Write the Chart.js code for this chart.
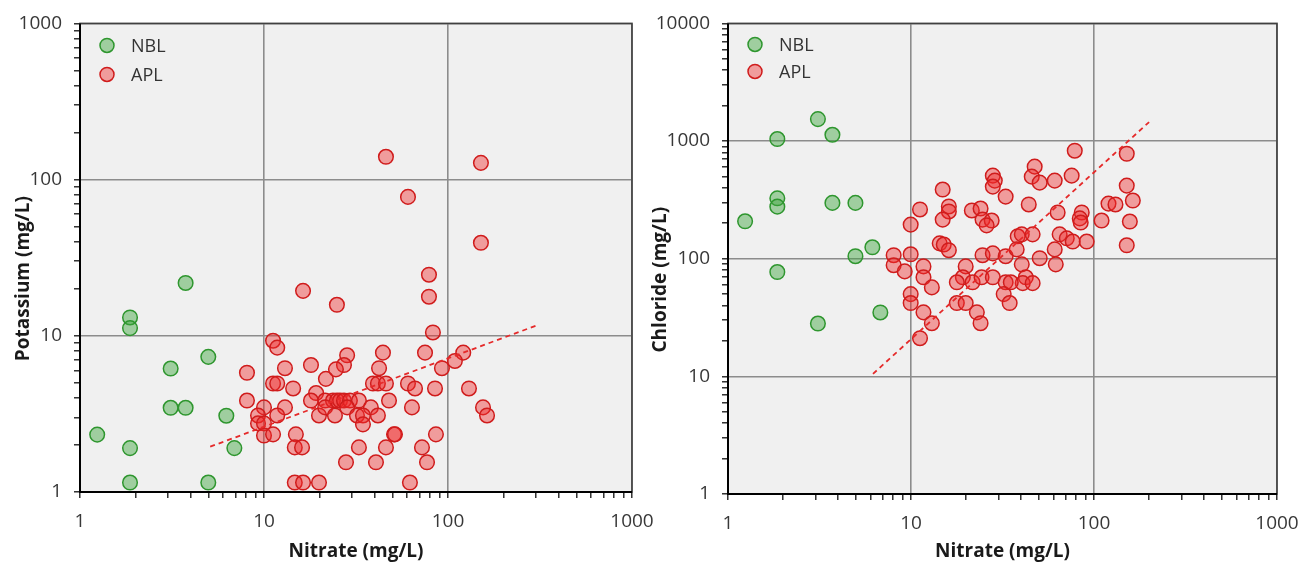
<!DOCTYPE html>
<html><head><meta charset="utf-8">
<script src="https://cdn.jsdelivr.net/npm/chart.js@4.4.1/dist/chart.umd.min.js"></script>
<style>
html,body{margin:0;padding:0;background:#fff;width:1299px;height:564px;overflow:hidden;position:relative}
canvas{position:absolute;top:0}
#cL{left:0}
#cR{left:645px}
</style></head><body>
<canvas id="cL" width="670" height="564"></canvas>
<canvas id="cR" width="680" height="564"></canvas>
<script>
// ---- tick labels ----
const majorTicks = [1, 10, 100, 1000, 10000];
const minorSteps = [1, 2, 3, 4, 5, 6, 7, 8, 9];

// ---- Left chart: Potassium vs Nitrate ----
const nitrateNBL_K = [1.24, 1.87, 1.87, 1.87, 1.87, 3.75, 3.11, 3.11, 3.75, 4.98, 4.98, 6.24, 6.9];
const potassiumNBL = [2.33, 13.1, 11.2, 1.91, 1.15, 21.8, 6.17, 3.46, 3.46, 7.33, 1.15, 3.08, 1.91];

const nitrateAPL_K = [46.0, 151, 60.6, 151, 78.8, 78.8, 16.3, 24.9, 82.8, 11.2,
  11.8, 8.08, 13.0, 18.0, 28.3, 27.2, 24.6, 21.7, 11.2, 11.8,
  14.4, 44.3, 75.0, 121, 109, 92.7, 42.2, 39.1, 41.6, 46.0,
  60.6, 66.2, 85.0, 130, 8.08, 19.2, 18.0, 21.5, 23.7, 24.9,
  25.9, 27.2, 29.3, 32.8, 47.8, 13.0, 11.8, 10.0, 9.28, 9.28,
  10.0, 10.0, 11.2, 14.9, 14.7, 16.1, 19.9, 21.5, 24.3, 28.3,
  38.1, 63.7, 32.0, 34.5, 41.6, 155, 163, 34.5, 50.9, 51.5,
  86.0, 32.8, 46.0, 72.2, 27.9, 40.6, 76.9, 14.7, 16.3, 19.9, 62.1];
const potassiumAPL = [140, 128, 77.5, 39.4, 24.6, 17.8, 19.4, 15.8, 10.5, 9.3,
  8.4, 5.8, 6.2, 6.5, 7.5, 6.5, 6.1, 5.3, 4.95, 4.95,
  4.6, 7.8, 7.8, 7.8, 6.9, 6.2, 6.2, 4.95, 4.95, 4.95,
  4.95, 4.6, 4.6, 4.6, 3.85, 4.3, 3.85, 3.85, 3.85, 3.85,
  3.85, 3.85, 3.85, 3.85, 3.85, 3.48, 3.09, 3.48, 3.09, 2.75,
  2.75, 2.3, 2.34, 2.34, 1.93, 1.93, 3.09, 3.48, 3.09, 3.48,
  3.48, 3.48, 3.09, 3.09, 3.09, 3.48, 3.09, 2.71, 2.34, 2.34,
  2.34, 1.93, 1.93, 1.93, 1.55, 1.55, 1.55, 1.15, 1.15, 1.15, 1.15];

const trendK_x = [5.1, 300];
const trendK_y = [1.95, 11.6];

// ---- Right chart: Chloride vs Nitrate ----
const nitrateNBL_Cl = [1.24, 1.86, 1.86, 1.86, 1.86, 3.1, 3.72, 3.72, 4.97, 4.97, 6.15, 3.1, 6.8];
const chlorideNBL = [208, 1040, 326, 277, 77, 1536, 1130, 298, 298, 105, 125, 28.1, 34.9];

const nitrateAPL_Cl = [14.9, 11.2, 9.96, 16.1, 16.1, 14.9, 14.35, 15.1, 16.1, 8.04,
  8.04, 9.96, 9.24, 11.7, 11.7, 13.0, 9.96, 9.96, 11.7, 13.0,
  11.2, 21.5, 24.0, 24.6, 27.6, 25.9, 28.0, 28.7, 28.0, 32.9,
  24.6, 28.0, 32.9, 19.9, 19.2, 17.8, 21.7, 24.3, 28.0, 17.8,
  19.9, 22.9, 24.0, 32.9, 32.1, 34.6, 78.5, 151, 47.4, 45.7,
  50.5, 61.0, 75.5, 151, 163, 120, 131, 44.0, 63.3, 85.7,
  83.6, 84.6, 110, 157, 151, 64.9, 71.0, 76.5, 91.2, 61.0,
  50.5, 61.8, 38.3, 40.3, 46.2, 37.8, 40.3, 42.4, 40.8, 46.2, 35.1];
const chlorideAPL = [387, 262, 195, 278, 252, 215, 135, 132, 118, 107,
  88, 109, 78, 86, 69.5, 57, 50, 42, 35, 28.3,
  21.1, 257, 267, 215, 211, 192, 508, 461, 410, 337,
  107, 111, 105, 86, 69.5, 63, 63, 69.5, 69.5, 42,
  42, 35, 28.3, 63, 50, 42, 828, 780, 606, 498,
  443, 461, 508, 418, 312, 294, 289, 289, 247, 247,
  220, 203, 211, 207, 130, 161, 149, 140, 140, 120,
  101, 89.5, 155, 161, 161, 120, 89.5, 69.5, 62, 62, 63];

const trendCl_x = [6.2, 200];
const trendCl_y = [10.5, 1450];

// ---- helpers ----
const pts = (xs, ys) => xs.map((x, i) => ({x: x, y: ys[i]}));
const FONT = "'Open Sans', 'DejaVu Sans', sans-serif";

function logTicks(scale) {
  const out = [];
  majorTicks.forEach(m => {
    minorSteps.forEach(s => {
      const v = m * s;
      if (v >= scale.min && v <= scale.max) out.push({value: v});
    });
  });
  scale.ticks = out;
}

function axis(min, max, fitFn, titleText) {
  return {
    type: 'logarithmic', min: min, max: max,
    afterBuildTicks: logTicks,
    afterFit: fitFn,
    ticks: {
      autoSkip: false, maxRotation: 0, padding: 12,
      color: '#383838', font: {family: FONT, size: 19},
      callback: (v) => majorTicks.includes(v) ? String(v) : ''
    },
    grid: {
      drawOnChartArea: true, tickLength: 6,
      color: (c) => (c.tick && majorTicks.includes(c.tick.value)) ? '#8c8c8c' : 'rgba(0,0,0,0)',
      lineWidth: 1.6,
      tickColor: '#111', tickWidth: 1.3
    },
    border: {display: false},
    title: titleText ? {display: true, text: titleText, color: '#1a1a1a',
      font: {family: FONT, size: 19, weight: 'bold'}, padding: {top: 0, bottom: 1}} : {display: false}
  };
}

const areaPlugin = {
  id: 'area',
  beforeDraw(chart) {
    const a = chart.chartArea, ctx = chart.ctx;
    ctx.save();
    ctx.fillStyle = '#f0f0f0';
    ctx.fillRect(a.left, a.top, a.right - a.left, a.bottom - a.top);
    ctx.restore();
  },
  beforeDatasetsDraw(chart) {
    const a = chart.chartArea, ctx = chart.ctx;
    ctx.save();
    ctx.strokeStyle = '#404040'; ctx.lineWidth = 1.6;
    ctx.strokeRect(a.left, a.top, a.right - a.left, a.bottom - a.top);
    ctx.strokeStyle = '#000'; ctx.lineWidth = 2;
    ctx.beginPath();
    ctx.moveTo(a.left, a.top); ctx.lineTo(a.left, a.bottom); ctx.lineTo(a.right, a.bottom);
    ctx.stroke();
    ctx.restore();
  },
  afterDraw(chart) {
    const o = chart.options.plugins.area, a = chart.chartArea, ctx = chart.ctx;
    ctx.save();
    ctx.translate(o.yTitleX, (a.top + a.bottom) / 2 + o.yTitleShift);
    ctx.rotate(-Math.PI / 2);
    ctx.font = "bold 19px " + FONT;
    ctx.fillStyle = '#1a1a1a';
    ctx.textAlign = 'center'; ctx.textBaseline = 'middle';
    ctx.fillText(o.yTitle, 0, 0);
    ctx.restore();
    ctx.save();
    chart.data.datasets.slice(0, 2).forEach((ds, i) => {
      const cy = a.top + o.legTop + i * o.legGap;
      const cx = a.left + o.legLeft;
      ctx.beginPath(); ctx.arc(cx, cy, 7, 0, Math.PI * 2);
      ctx.fillStyle = ds.backgroundColor; ctx.fill();
      ctx.lineWidth = 1.5; ctx.strokeStyle = ds.borderColor; ctx.stroke();
      ctx.font = "18px " + FONT; ctx.fillStyle = '#333';
      ctx.textAlign = 'left'; ctx.textBaseline = 'middle';
      ctx.fillText(ds.label, cx + 24, cy + 1);
    });
    ctx.restore();
  }
};

const GREEN_FILL = 'rgba(60,165,60,0.45)', GREEN_LINE = '#2e962e';
const RED_FILL = 'rgba(240,40,40,0.42)', RED_LINE = '#d01c1c';

function makeChart(id, xs1, ys1, xs2, ys2, tx, ty, yMax, yTitle, yW, xH, padR, legTop, legGap, yTitleX) {
  return new Chart(document.getElementById(id), {
    type: 'scatter',
    data: {
      datasets: [
        {label: 'NBL', data: pts(xs1, ys1), backgroundColor: GREEN_FILL, borderColor: GREEN_LINE,
          borderWidth: 1.5, pointRadius: 7.3, order: 2},
        {label: 'APL', data: pts(xs2, ys2), backgroundColor: RED_FILL, borderColor: RED_LINE,
          borderWidth: 1.5, pointRadius: 7.3, order: 1},
        {label: 'trend', data: pts(tx, ty), showLine: true, pointRadius: 0, borderColor: '#e52a2a',
          borderWidth: 1.8, borderDash: [5, 4], fill: false, order: 0}
      ]
    },
    options: {
      responsive: false, animation: false, devicePixelRatio: 1,
      layout: {padding: {left: 0, right: padR, top: 23, bottom: 0}},
      scales: {
        x: axis(1, 1000, s => { s.height = xH; }, 'Nitrate (mg/L)'),
        y: axis(1, yMax, s => { s.width = yW; }, null)
      },
      plugins: {
        legend: {display: false}, tooltip: {enabled: false},
        area: {yTitle: yTitle, yTitleX: yTitleX, yTitleShift: 21, legTop: legTop, legGap: legGap, legLeft: 27}
      }
    },
    plugins: [areaPlugin]
  });
}

makeChart('cL', nitrateNBL_K, potassiumNBL, nitrateAPL_K, potassiumAPL, trendK_x, trendK_y,
  1000, 'Potassium (mg/L)', 80, 72, 38, 22, 29, 24);
makeChart('cR', nitrateNBL_Cl, chlorideNBL, nitrateAPL_Cl, chlorideAPL, trendCl_x, trendCl_y,
  10000, 'Chloride (mg/L)', 83, 70, 48, 21, 27, 16);
</script>
</body></html>
